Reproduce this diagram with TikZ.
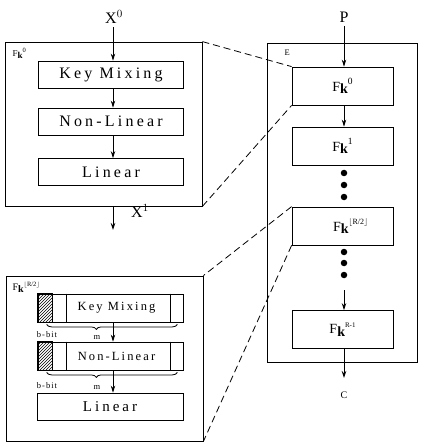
\documentclass[tikz,border=0pt]{standalone}
\usepackage{fontspec}
\setmainfont{Liberation Serif}
\usetikzlibrary{arrows.meta,decorations.pathreplacing,patterns,calc}
\newcommand{\Fsym}[2]{F\raisebox{-0.35ex}{\bfseries k}\raisebox{1.0ex}{\fontsize{#2}{#2}\selectfont #1}}
\newcommand{\Flr}{$\lfloor$R/2$\rfloor$}
\begin{document}
\begin{tikzpicture}[x=1pt,y=-1pt,
  lw/.style={line width=0.8pt},
  outer/.style={draw,lw,inner sep=0pt},
  stage/.style={draw,lw,inner sep=0pt,minimum width=145pt,minimum height=27pt,
    font=\fontsize{16}{18}\selectfont\addfontfeature{LetterSpace=20}},
  split/.style={draw,lw,inner sep=0pt,minimum width=145pt,minimum height=28pt},
  splittext/.style={font=\fontsize{12.5}{14}\selectfont\addfontfeature{LetterSpace=17}},
  fbox/.style={draw,lw,inner sep=0pt,minimum width=101pt,minimum height=38pt,
    font=\fontsize{14}{16}\selectfont},
  arr/.style={lw,-{Stealth[length=7pt,width=4.5pt]}},
  dsh/.style={lw,dash pattern=on 7pt off 4pt},
  dot/.style={circle,fill,inner sep=0pt,minimum size=6.5pt},
  brc/.style={lw,decorate,decoration={brace,mirror,amplitude=5pt,aspect=0.38}},
  small/.style={font=\fontsize{8.5}{9}\selectfont\addfontfeature{LetterSpace=12}}]
\useasboundingbox (0,0) rectangle (422,446);

% ---------- top-left: F_k^0 detail ----------
\node[outer,minimum width=197pt,minimum height=164pt] (A) at (103.5,124) {};
\node[anchor=north west,font=\fontsize{9}{10}\selectfont] (Alab) at (9,45) {\Fsym{0}{6.5}};
\node[font=\fontsize{16}{17}\selectfont] (X0) at (114,17) {X$^0$};
\node[stage] (km1) at (111,74.5) {Key Mixing};
\node[stage] (nl1) at (111,121.5) {Non-Linear};
\node[stage] (lin1) at (111,172) {Linear};
\coordinate (X1end) at (113,230);
\node[font=\fontsize{16}{17}\selectfont] (X1) at (140,211) {X$^1$};
\coordinate (ax0) at (113,0);
\draw[arr] (X0.south -| ax0) -- (km1.north -| ax0);
\draw[arr] (km1.south -| ax0) -- (nl1.north -| ax0);
\draw[arr] (nl1.south -| ax0) -- (lin1.north -| ax0);
\draw[arr] (A.south -| ax0) -- (X1end);

% ---------- bottom-left: F_k^{R/2} detail ----------
\node[outer,minimum width=197pt,minimum height=165pt] (B) at (104.5,358.5) {};
\node[anchor=north west,font=\fontsize{10}{11}\selectfont] (Blab) at (9,278) {\Fsym{\Flr}{6.5}};
\node[split,label={[splittext,xshift=6pt]center:Key Mixing}] (km2) at (110.5,308) {};
\node[split,label={[splittext,xshift=6pt]center:Non-Linear}] (nl2) at (110.5,356) {};
\node[stage,minimum width=146pt,font=\fontsize{15}{17}\selectfont\addfontfeature{LetterSpace=20}] (lin2) at (110,406.5) {Linear};
\foreach \n in {km2,nl2}{
  \draw[lw,pattern=north east lines] (\n.north west) rectangle ($(\n.south west)+(15,0)$);
  \draw[lw] ($(\n.north west)+(29,0)$) -- ($(\n.south west)+(29,0)$);
  \draw[lw] ($(\n.north east)+(-13,0)$) -- ($(\n.south east)+(-13,0)$);
}
\draw[brc] ($(km2.south west)+(9,2)$) -- ($(km2.south east)+(-6,2)$);
\draw[brc] ($(nl2.south west)+(9,2)$) -- ($(nl2.south east)+(-6,2)$);
\node[small] (bb1) at (47,335) {b-bit};
\node[small] (m1) at (97,337) {m};
\node[small] (bb2) at (47,386) {b-bit};
\node[small] (m2) at (97,387) {m};
\coordinate (ax) at (113,0);
\draw[arr] (km2.south -| ax) -- (nl2.north -| ax);
\draw[arr] (nl2.south -| ax) -- (lin2.north -| ax);

% ---------- right: E ----------
\node[outer,minimum width=150pt,minimum height=319pt] (E) at (342,202.5) {};
\node[anchor=north west,font=\fontsize{8.5}{9}\selectfont] (Elab) at (281,46) {E};
\node[font=\fontsize{16}{17}\selectfont] (P) at (344,17) {P};
\node[fbox] (f0) at (342.5,86) {\Fsym{0}{9.5}};
\node[fbox] (f1) at (342.5,146) {\Fsym{1}{9.5}};
\node[dot] (d1) at (344,173) {};
\node[dot] (d2) at (344,185) {};
\node[dot] (d3) at (344,197) {};
\node[fbox,label={[font=\fontsize{14}{16}\selectfont,xshift=8pt]center:\Fsym{\Flr}{8}}] (fh) at (342.5,226) {};
\node[dot] (d4) at (344,252) {};
\node[dot] (d5) at (344,263) {};
\node[dot] (d6) at (344,275) {};
\coordinate (frin) at (344,290);
\node[fbox] (fr) at (342.5,329.5) {\Fsym{R-1}{7}};
\coordinate (Cend) at (344,378);
\node[font=\fontsize{10}{11}\selectfont] (C) at (344,395) {C};
\draw[arr] (P.south) -- (P.south |- f0.north);
\draw[arr] (f0.south -| P) -- (f1.north -| P);
\draw[arr] (frin) -- (fr.north -| frin);
\draw[arr] (fr.south -| Cend) -- (Cend);

% ---------- zoom lines ----------
\draw[dsh] (A.north east) -- (f0.north west);
\draw[dsh] (A.south east) -- (f0.south west);
\draw[dsh] (fh.north west) -- (B.north east);
\draw[dsh] (fh.south west) -- (B.south east);
\end{tikzpicture}
\end{document}
